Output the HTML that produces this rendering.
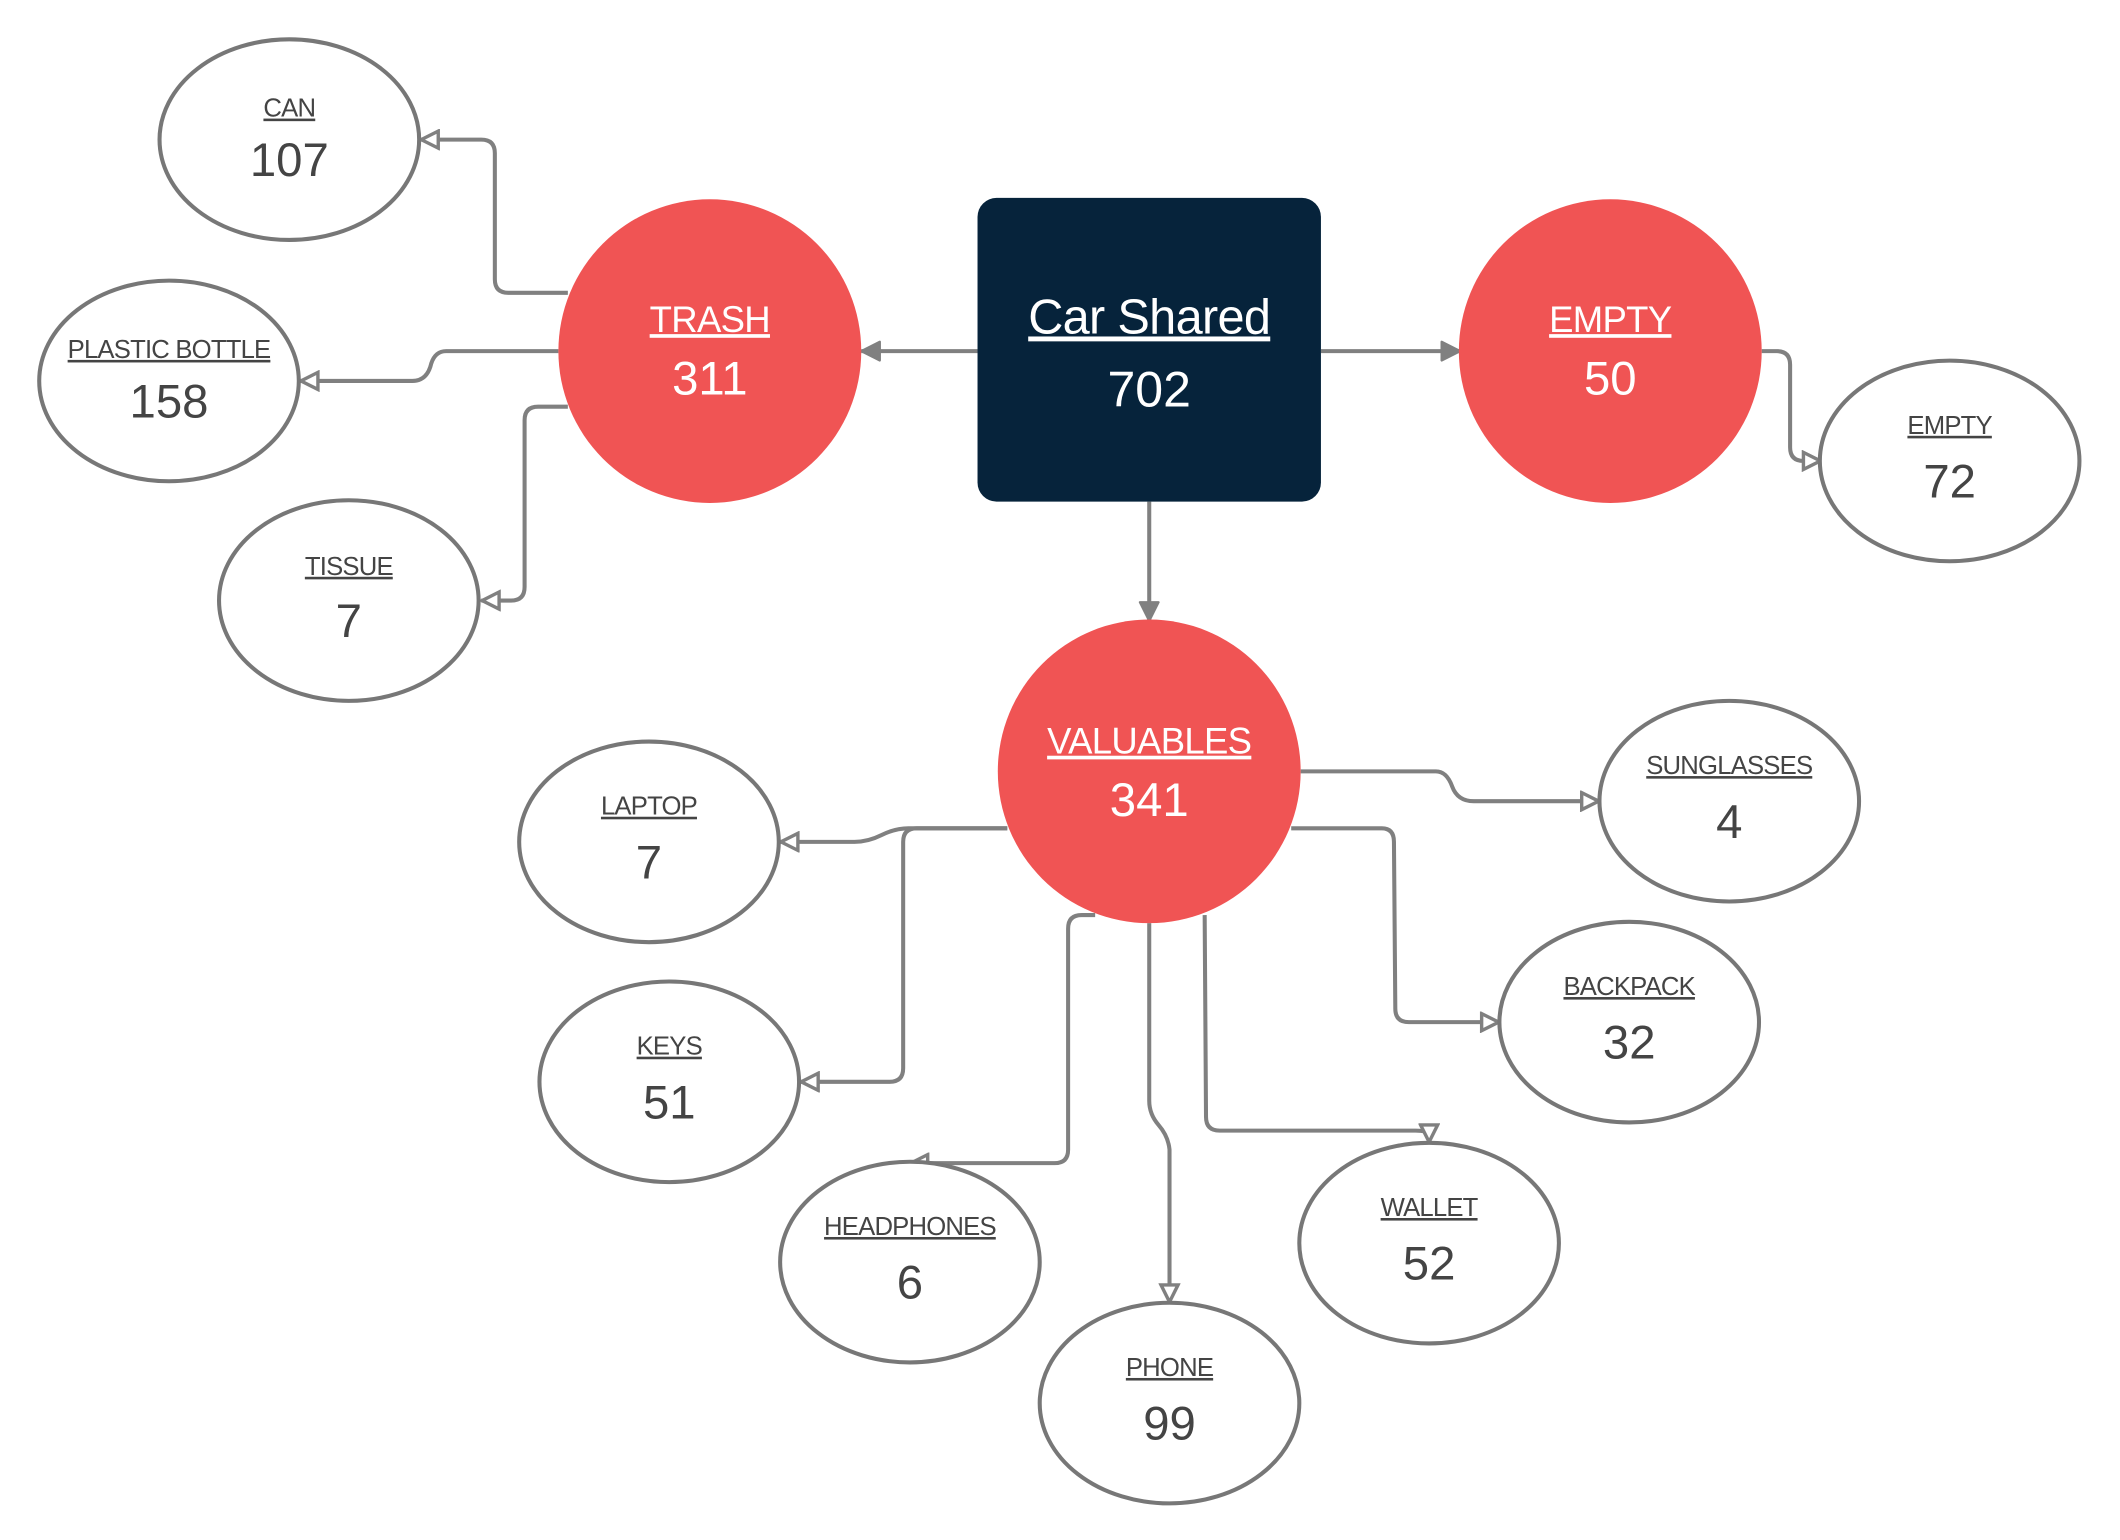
<!DOCTYPE html>
<html><head><meta charset="utf-8"><style>
html,body{margin:0;padding:0;background:#fff;}
svg{display:block;}
text{font-family:"Liberation Sans",sans-serif;text-anchor:middle;}
.lab{font-size:19px;fill:#444;text-decoration:underline;letter-spacing:-0.6px;}
.num{font-size:35px;fill:#444;}
.wl{font-size:27px;fill:#fff;text-decoration:underline;letter-spacing:-0.5px;}
.wn{font-size:35px;fill:#fff;}
.c{fill:none;stroke:#808080;stroke-width:3;}
.e{fill:#fff;stroke:#777;stroke-width:3;}
</style></head><body>
<svg width="2120" height="1540" viewBox="0 0 1568 1136" preserveAspectRatio="none">
<defs>
<marker id="f" viewBox="0 0 14 14" refX="13" refY="7" markerWidth="16" markerHeight="16" orient="auto" markerUnits="userSpaceOnUse">
<path d="M1,1 L13,7 L1,13 z" fill="#808080" stroke="#808080" stroke-width="1.5" stroke-linejoin="round"/></marker>
<marker id="h" viewBox="0 0 14 14" refX="13" refY="7" markerWidth="16" markerHeight="16" orient="auto" markerUnits="userSpaceOnUse">
<path d="M1.5,1.5 L12.5,7 L1.5,12.5 z" fill="#fff" stroke="#808080" stroke-width="2.2"/></marker>
</defs>

<path class="c" d="M723,259 L637,259" marker-end="url(#f)"/>
<path class="c" d="M977,259 L1080,259" marker-end="url(#f)"/>
<path class="c" d="M850,370 L850,458" marker-end="url(#f)"/>

<path class="c" d="M420,216 L376,216 Q366,216 366,206 L366,113 Q366,103 356,103 L311,103" marker-end="url(#h)"/>
<path class="c" d="M413,259 L330,259 Q322,259 319,268 Q316,281 305,281 L222,281" marker-end="url(#h)"/>
<path class="c" d="M420,300 L398,300 Q388,300 388,310 L388,433 Q388,443 378,443 L356,443" marker-end="url(#h)"/>
<path class="c" d="M1303,259 L1314,259 Q1324,259 1324,269 L1324,330 Q1324,340 1334,340 L1347,340" marker-end="url(#h)"/>

<path class="c" d="M962,569 L1062,569 Q1070,569 1074,580 Q1078,591 1090,591 L1183,591" marker-end="url(#h)"/>
<path class="c" d="M955,611 L1022,611 Q1031,611 1031,621 L1032,744 Q1032,754 1042,754 L1109,754" marker-end="url(#h)"/>
<path class="c" d="M891,675 L892,824 Q892,834 902,834 L1047,834 Q1057,834 1057,838 L1057,843" marker-end="url(#h)"/>
<path class="c" d="M850,681 L850,812 Q850,822 857,830 Q864,838 865,848 L865,961" marker-end="url(#h)"/>
<path class="c" d="M810,675 L800,675 Q790,675 790,685 L790,848 Q790,858 780,858 L673,858" marker-end="url(#h)"/>
<path class="c" d="M745,611 L678,611 Q668,611 668,621 L668,788 Q668,798 658,798 L592,798" marker-end="url(#h)"/>
<path class="c" d="M745,611 L672,611 Q662,611 652,616 Q642,621 632,621 L577,621" marker-end="url(#h)"/>

<rect x="723" y="146" width="254" height="224" rx="14" fill="#06233b"/>
<text x="850" y="246" class="wl" style="font-size:36px">Car Shared </text>
<text x="850" y="300" class="wn" style="font-size:37px">702</text>

<circle cx="525" cy="259" r="112" fill="#f05454"/>
<text x="525" y="245" class="wl">TRASH</text>
<text x="525" y="291" class="wn">311</text>

<circle cx="1191" cy="259" r="112" fill="#f05454"/>
<text x="1191" y="245" class="wl">EMPTY</text>
<text x="1191" y="291" class="wn">50</text>

<circle cx="850" cy="569" r="112" fill="#f05454"/>
<text x="850" y="556" class="wl">VALUABLES</text>
<text x="850" y="602" class="wn">341</text>

<ellipse class="e" cx="214" cy="103" rx="96" ry="74"/><text x="214" y="86" class="lab">CAN</text><text x="214" y="130" class="num">107</text>
<ellipse class="e" cx="125" cy="281" rx="96" ry="74"/><text x="125" y="264" class="lab">PLASTIC BOTTLE</text><text x="125" y="308" class="num">158</text>
<ellipse class="e" cx="258" cy="443" rx="96" ry="74"/><text x="258" y="424" class="lab">TISSUE</text><text x="258" y="470" class="num">7</text>
<ellipse class="e" cx="1442" cy="340" rx="96" ry="74"/><text x="1442" y="320" class="lab">EMPTY</text><text x="1442" y="367" class="num">72</text>
<ellipse class="e" cx="1279" cy="591" rx="96" ry="74"/><text x="1279" y="571" class="lab">SUNGLASSES</text><text x="1279" y="618" class="num">4</text>
<ellipse class="e" cx="1205" cy="754" rx="96" ry="74"/><text x="1205" y="734" class="lab">BACKPACK</text><text x="1205" y="781" class="num">32</text>
<ellipse class="e" cx="1057" cy="917" rx="96" ry="74"/><text x="1057" y="897" class="lab">WALLET</text><text x="1057" y="944" class="num">52</text>
<ellipse class="e" cx="865" cy="1035" rx="96" ry="74"/><text x="865" y="1015" class="lab">PHONE</text><text x="865" y="1062" class="num">99</text>
<ellipse class="e" cx="673" cy="931" rx="96" ry="74"/><text x="673" y="911" class="lab">HEADPHONES</text><text x="673" y="958" class="num">6</text>
<ellipse class="e" cx="495" cy="798" rx="96" ry="74"/><text x="495" y="778" class="lab">KEYS</text><text x="495" y="825" class="num">51</text>
<ellipse class="e" cx="480" cy="621" rx="96" ry="74"/><text x="480" y="601" class="lab">LAPTOP</text><text x="480" y="648" class="num">7</text>
</svg>
</body></html>
